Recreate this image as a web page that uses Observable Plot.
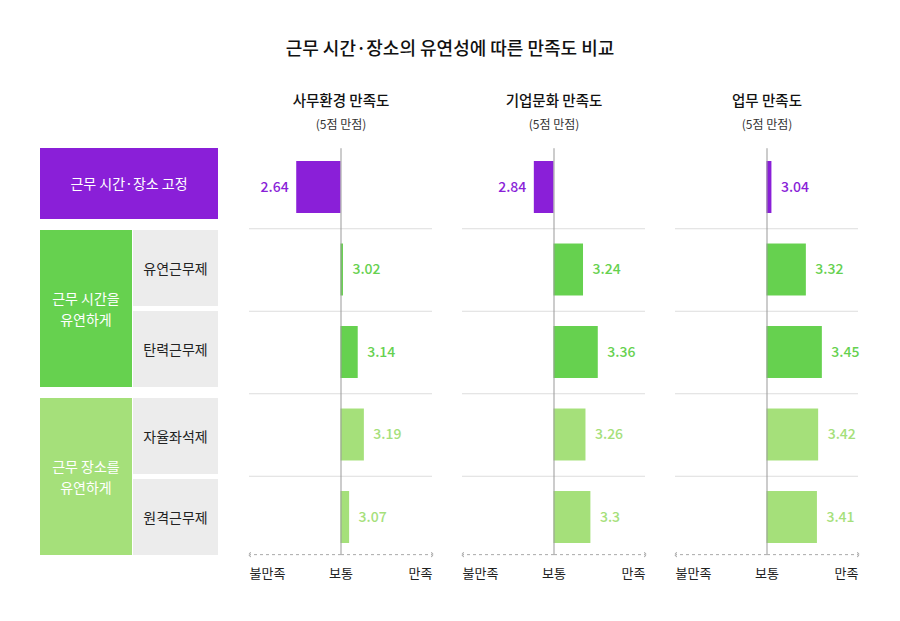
<!DOCTYPE html>
<html><head><meta charset="utf-8">
<script src="https://cdn.jsdelivr.net/npm/d3@7"></script>
<script src="https://cdn.jsdelivr.net/npm/@observablehq/plot@0.6"></script>
<style>
body{margin:0;background:#fff;font-family:"Noto Sans CJK KR","Noto Sans",sans-serif;}
#wrap{position:relative;width:900px;height:621px;}
.box{position:absolute;display:flex;align-items:center;justify-content:center;text-align:center;font-size:14px;line-height:1.5;}
#title{position:absolute;left:0;width:900px;top:34px;text-align:center;font-size:18px;font-weight:500;color:#111;}
</style></head><body>
<div id="wrap"><div id="title">근무 시간·장소의 유연성에 따른 만족도 비교</div></div>
<script>
const metrics = ["사무환경 만족도", "기업문화 만족도", "업무 만족도"];
const categories = ["근무 시간·장소 고정", "유연근무제", "탄력근무제", "자율좌석제", "원격근무제"];
const officeEnv = [2.64, 3.02, 3.14, 3.19, 3.07];
const culture = [2.84, 3.24, 3.36, 3.26, 3.3];
const work = [3.04, 3.32, 3.45, 3.42, 3.41];
const groupColors = ["#8a1fd8", "#66d14f", "#66d14f", "#a5e07a", "#a5e07a"];
const scaleLabels = ["불만족", "보통", "만족"];

const series = [officeEnv, culture, work];
const data = [];
metrics.forEach((m, mi) => categories.forEach((c, i) => data.push({metric: m, cat: c, i, v: series[mi][i], color: groupColors[i]})));
const xMin = 2.256, xMax = 3.744;
const facetRows = metrics.map(m => ({metric: m}));

const chart = Plot.plot({
  width: 900, height: 621,
  marginLeft: 248, marginRight: 40, marginTop: 145.75, marginBottom: 62.75,
  x: {domain: [xMin, xMax], axis: null},
  y: {domain: [-0.5, 4.5], axis: null, reverse: true},
  fx: {domain: metrics, padding: 0.14, axis: null},
  style: {fontFamily: '"Noto Sans CJK KR","Noto Sans",sans-serif'},
  marks: [
    Plot.ruleY([0.5, 1.5, 2.5, 3.5].flatMap(y => metrics.map(m => ({metric: m, y}))), {fx: "metric", y: "y", x1: xMin, x2: xMax, stroke: "#dddddd"}),
    Plot.rect(data, {fx: "metric", x1: 3, x2: "v", y1: d => d.i - 0.315, y2: d => d.i + 0.315, fill: "color"}),
    Plot.ruleX(facetRows, {fx: "metric", x: 3, y1: -0.47, y2: 4.45, stroke: "#999", strokeWidth: 1}),
    Plot.link(facetRows, {fx: "metric", x1: 3, x2: xMax, y1: 4.45, y2: 4.45, stroke: "#aaa", strokeDasharray: "3,3", markerEnd: "arrow"}),
    Plot.link(facetRows, {fx: "metric", x1: 3, x2: xMin, y1: 4.45, y2: 4.45, stroke: "#aaa", strokeDasharray: "3,3", markerEnd: "arrow"}),
    Plot.text(data.filter(d => d.v < 3), {fx: "metric", x: "v", y: "i", text: d => String(d.v), fill: "color", fontSize: 14, fontWeight: 500, textAnchor: "end", dx: -8}),
    Plot.text(data.filter(d => d.v >= 3), {fx: "metric", x: "v", y: "i", text: d => String(d.v), fill: "color", fontSize: 14, fontWeight: 500, textAnchor: "start", dx: 9}),
    Plot.text(facetRows, {fx: "metric", x: xMin, y: 4.68, text: () => scaleLabels[0], textAnchor: "start", fontSize: 13, fill: "#222"}),
    Plot.text(facetRows, {fx: "metric", x: 3, y: 4.68, text: () => scaleLabels[1], fontSize: 13, fill: "#222"}),
    Plot.text(facetRows, {fx: "metric", x: xMax, y: 4.68, text: () => scaleLabels[2], textAnchor: "end", fontSize: 13, fill: "#222"}),
    Plot.text(facetRows, {fx: "metric", x: 3, y: -1.04, text: "metric", fontSize: 14.5, fontWeight: 500, fill: "#111"}),
    Plot.text(facetRows, {fx: "metric", x: 3, y: -0.76, text: () => "(5점 만점)", fontSize: 12, fill: "#333"})
  ]
});
chart.style.position = "absolute"; chart.style.left = "0"; chart.style.top = "0";
const wrap = document.getElementById("wrap");
wrap.appendChild(chart);

const boxes = [
  [40,148,178,71,"#8a1fd8","#fff","근무 시간·장소 고정"],
  [40,230,92,157,"#66d14f","#fff","근무 시간을<br>유연하게"],
  [133,230,85,76,"#ececec","#222",categories[1]],
  [133,311,85,76,"#ececec","#222",categories[2]],
  [40,398,92,157,"#a5e07a","#fff","근무 장소를<br>유연하게"],
  [133,398,85,76,"#ececec","#222",categories[3]],
  [133,479,85,76,"#ececec","#222",categories[4]]
];
boxes.forEach(([l,t,w,h,bg,fg,txt]) => {
  const d = document.createElement("div");
  d.className = "box";
  Object.assign(d.style, {left:l+"px", top:t+"px", width:w+"px", height:h+"px", background:bg, color:fg});
  d.innerHTML = txt;
  wrap.appendChild(d);
});
</script></body></html>
